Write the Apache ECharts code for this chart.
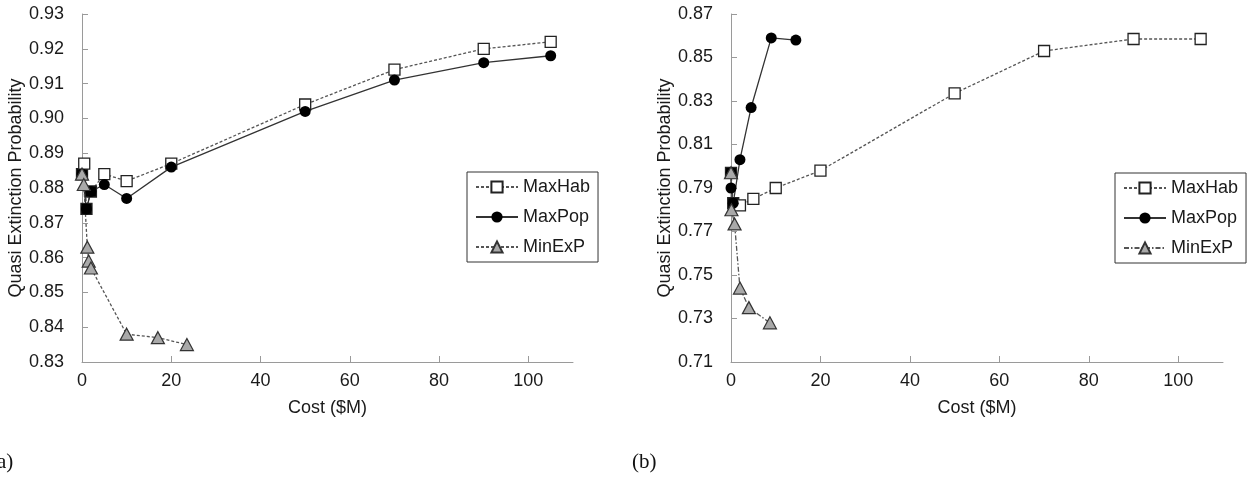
<!DOCTYPE html>
<html>
<head>
<meta charset="utf-8">
<script src="https://cdn.jsdelivr.net/npm/echarts@6/dist/echarts.min.js"></script>
<style>
html,body{margin:0;padding:0;background:#fff;}
#chart{width:1247px;height:477px;}
</style>
</head>
<body>
<div id="chart"></div>
<script>
// ---- data ----
const seriesNames = ['MaxHab', 'MaxPop', 'MinExP'];
const xTicks = [0, 20, 40, 60, 80, 100];
const yTicksA = [0.83, 0.84, 0.85, 0.86, 0.87, 0.88, 0.89, 0.90, 0.91, 0.92, 0.93];
const yTicksB = [0.71, 0.73, 0.75, 0.77, 0.79, 0.81, 0.83, 0.85, 0.87];

// panel (a)
const habA = [[0, 0.884], [0.5, 0.887], [1, 0.874], [2, 0.879], [5, 0.884], [10, 0.882], [20, 0.887], [50, 0.904], [70, 0.914], [90, 0.920], [105, 0.922]];
const popA = [[0, 0.884], [1, 0.874], [2, 0.879], [5, 0.881], [10, 0.877], [20, 0.886], [50, 0.902], [70, 0.911], [90, 0.916], [105, 0.918]];
const minA = [[0, 0.884], [0.4, 0.881], [1.2, 0.863], [1.5, 0.859], [2, 0.857], [10, 0.838], [17, 0.837], [23.5, 0.835]];

// panel (b)
const habB = [[0, 0.797], [0.5, 0.783], [2, 0.782], [5, 0.785], [10, 0.790], [20, 0.798], [50, 0.8335], [70, 0.853], [90, 0.8585], [105, 0.8585]];
const popB = [[0, 0.797], [0, 0.790], [0.5, 0.783], [2, 0.803], [4.5, 0.827], [9, 0.859], [14.5, 0.858]];
const minB = [[0, 0.797], [0.1, 0.780], [0.8, 0.7735], [2, 0.744], [4, 0.735], [8.7, 0.728]];

// ---- chart ----
const FONT = 'Liberation Sans, Arial, sans-serif';
const FS = 18;
const axisGray = '#9a9a9a';

// squares hidden under a coinciding MaxPop point appear filled black
function habData(hab, pop) {
  return hab.map(p => {
    const hit = pop.some(q => q[0] === p[0] && q[1] === p[1]);
    return hit ? { value: p, itemStyle: { color: '#000' } } : { value: p };
  });
}

function xAxisCfg(gi) {
  return {
    type: 'value', gridIndex: gi, min: 0, max: 110,
    name: 'Cost ($M)', nameLocation: 'middle', nameGap: 37,
    nameTextStyle: { fontFamily: FONT, fontSize: FS, color: '#1a1a1a' },
    axisLine: { show: true, onZero: false, lineStyle: { color: axisGray, width: 1 } },
    axisTick: { show: true, inside: true, length: 6, customValues: xTicks, lineStyle: { color: axisGray } },
    axisLabel: { customValues: xTicks, margin: 10, fontFamily: FONT, fontSize: FS, color: '#1a1a1a' },
    splitLine: { show: false }
  };
}
function yAxisCfg(gi, ticks) {
  return {
    type: 'value', gridIndex: gi, min: ticks[0], max: ticks[ticks.length - 1],
    name: 'Quasi Extinction Probability', nameLocation: 'middle', nameGap: 57,
    nameTextStyle: { fontFamily: FONT, fontSize: FS, color: '#1a1a1a' },
    axisLine: { show: true, onZero: false, lineStyle: { color: axisGray, width: 1 } },
    axisTick: { show: true, inside: true, length: 6, customValues: ticks, lineStyle: { color: axisGray } },
    axisLabel: { customValues: ticks, margin: 18, fontFamily: FONT, fontSize: FS, color: '#1a1a1a',
      formatter: v => v.toFixed(2) },
    splitLine: { show: false }
  };
}

const habStyle = { symbol: 'rect', symbolSize: 11, itemStyle: { color: '#fff', borderColor: '#222', borderWidth: 1.3 },
  lineStyle: { color: '#555', width: 1.3, type: [3, 2] } };
const popStyle = { symbol: 'circle', symbolSize: 11, itemStyle: { color: '#000', borderColor: '#000', borderWidth: 0 },
  lineStyle: { color: '#333', width: 1.3, type: 'solid' } };
const minStyleA = { symbol: 'triangle', symbolSize: [13, 12], itemStyle: { color: '#a9a9a9', borderColor: '#333', borderWidth: 1.2 },
  lineStyle: { color: '#555', width: 1.3, type: [3, 2] } };
const minStyleB = { symbol: 'triangle', symbolSize: [13, 12], itemStyle: { color: '#a9a9a9', borderColor: '#333', borderWidth: 1.2 },
  lineStyle: { color: '#555', width: 1.3, type: [5, 2, 1.5, 2] } };

function mkSeries(name, data, style, gi) {
  return Object.assign({
    type: 'line', name: name, xAxisIndex: gi, yAxisIndex: gi, data: data,
    showAllSymbol: true, animation: false, smooth: false, z: 2
  }, JSON.parse(JSON.stringify(style)));
}

function legendCfg(left, top, minLine) {
  return {
    orient: 'vertical', left: left, top: top,
    itemWidth: 42, itemHeight: 14, itemGap: 8,
    padding: [4, 8, 4, 8],
    borderColor: '#333', borderWidth: 1,
    textStyle: { fontFamily: FONT, fontSize: FS, color: '#1a1a1a', lineHeight: 22 },
    data: [
      { name: seriesNames[0] },
      { name: seriesNames[1] },
      { name: seriesNames[2], lineStyle: { type: minLine } }
    ]
  };
}

const chart = echarts.init(document.getElementById('chart'), null, { renderer: 'canvas' });
chart.setOption({
  animation: false,
  backgroundColor: '#fff',
  grid: [
    { left: 82, top: 14, width: 491, height: 348 },
    { left: 731, top: 14, width: 492, height: 348 }
  ],
  xAxis: [xAxisCfg(0), xAxisCfg(1)],
  yAxis: [yAxisCfg(0, yTicksA), yAxisCfg(1, yTicksB)],
  legend: [legendCfg(467, 172, [3, 2]), legendCfg(1115, 173, [5, 2, 1.5, 2])],
  series: [
    mkSeries(seriesNames[0], habData(habA, popA), habStyle, 0),
    mkSeries(seriesNames[1], popA, popStyle, 0),
    mkSeries(seriesNames[2], minA, minStyleA, 0),
    mkSeries(seriesNames[0], habData(habB, popB), habStyle, 1),
    mkSeries(seriesNames[1], popB, popStyle, 1),
    mkSeries(seriesNames[2], minB, minStyleB, 1)
  ],
  graphic: [
    { type: 'text', left: -10, top: 452, style: { text: '(a)', font: '21px "Liberation Serif", "DejaVu Serif", serif', fill: '#111' } },
    { type: 'text', left: 632, top: 452, style: { text: '(b)', font: '21px "Liberation Serif", "DejaVu Serif", serif', fill: '#111' } }
  ]
});
</script>
</body>
</html>
